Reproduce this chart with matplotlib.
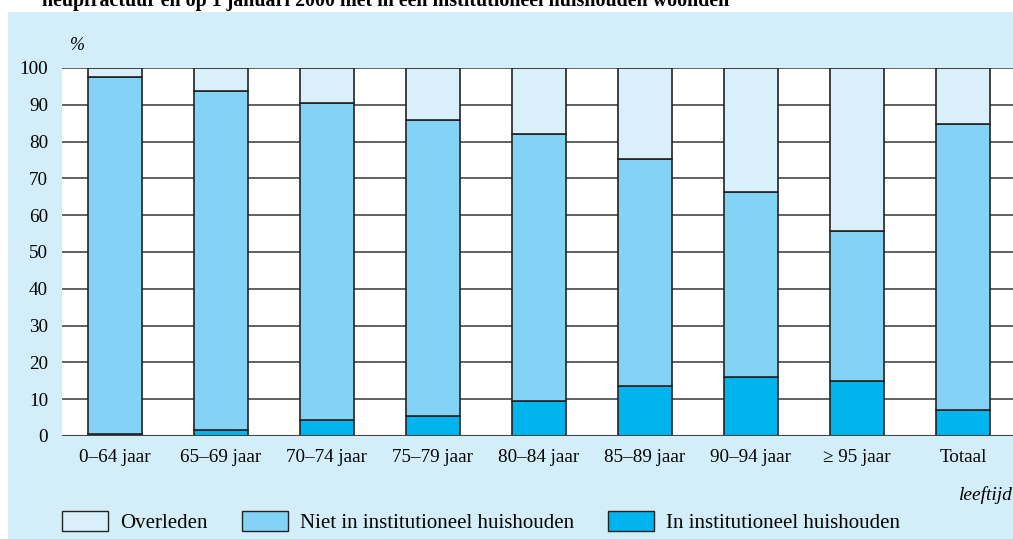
import numpy as np
import matplotlib.pyplot as plt
from matplotlib.patches import Rectangle, Patch

categories = ['0–64 jaar', '65–69 jaar', '70–74 jaar', '75–79 jaar', '80–84 jaar',
              '85–89 jaar', '90–94 jaar', '≥ 95 jaar', 'Totaal']
# percentages per leeftijdsgroep
inst = [0.5, 1.7, 4.3, 5.3, 9.5, 13.6, 16.0, 15.0, 7.1]
top_niet = [97.5, 93.7, 90.5, 86.0, 82.0, 75.2, 66.2, 55.7, 84.7]  # cumulatief inst + niet
niet = [t - i for t, i in zip(top_niet, inst)]
overleden = [100 - t for t in top_niet]

c_over = '#d9f0fb'
c_niet = '#82d3f6'
c_inst = '#00b5ee'
bg = '#d4eef9'

plt.rcParams['font.family'] = 'Liberation Serif'

fig = plt.figure(figsize=(10.13, 5.39), dpi=100)
fig.patches.append(Rectangle((8 / 1013, 0), 1, (539 - 12) / 539, transform=fig.transFigure,
                             facecolor=bg, edgecolor='none', zorder=-10))

ax = fig.add_axes([62 / 1013, 103 / 539, 954 / 1013, 368 / 539])
ax.set_facecolor('white')
x = np.arange(len(categories))
w = 0.51
ax.bar(x, inst, w, color=c_inst, edgecolor='#222222', linewidth=1.2, zorder=3)
ax.bar(x, niet, w, bottom=inst, color=c_niet, edgecolor='#222222', linewidth=1.2, zorder=3)
ax.bar(x, overleden, w, bottom=top_niet, color=c_over, edgecolor='#222222', linewidth=1.2, zorder=3)

ax.set_xlim(-0.5, 8.5)
ax.set_ylim(0, 100)
ax.set_yticks(range(0, 101, 10))
ax.yaxis.grid(True, color='#555555', linewidth=1.3, zorder=0)
ax.set_axisbelow(True)
for s in ax.spines.values():
    s.set_visible(False)
ax.axhline(0, color='#444444', linewidth=1.5, zorder=4)
ax.tick_params(axis='both', length=0, labelsize=13.8)
ax.tick_params(axis='y', pad=10)
ax.tick_params(axis='x', pad=9)
ax.set_xticks(x)
ax.set_xticklabels(categories)

fig.text(70 / 1013, (539 - 45) / 539, '%', fontsize=13, style='italic', va='center', ha='left')
fig.text(1013 / 1013, (539 - 495) / 539, 'leeftijd', fontsize=14, style='italic',
         va='center', ha='right')
fig.text(42 / 1013, (539 - 6) / 539,
         'heupfractuur en op 1 januari 2000 niet in een institutioneel huishouden woonden',
         fontsize=14.4, fontweight='bold', va='baseline', ha='left')

handles = [Patch(facecolor=c_over, edgecolor='#222222', linewidth=1.0, label='Overleden'),
           Patch(facecolor=c_niet, edgecolor='#222222', linewidth=1.0, label='Niet in institutioneel huishouden'),
           Patch(facecolor=c_inst, edgecolor='#222222', linewidth=1.0, label='In institutioneel huishouden')]
fig.legend(handles=handles, loc='center left', bbox_to_anchor=(62 / 1013, 17 / 539), ncol=3,
           frameon=False, fontsize=15, handlelength=2.2, handleheight=1.15,
           handletextpad=0.58, columnspacing=1.65, borderpad=0, borderaxespad=0)

fig.savefig('out.png', dpi=100)
